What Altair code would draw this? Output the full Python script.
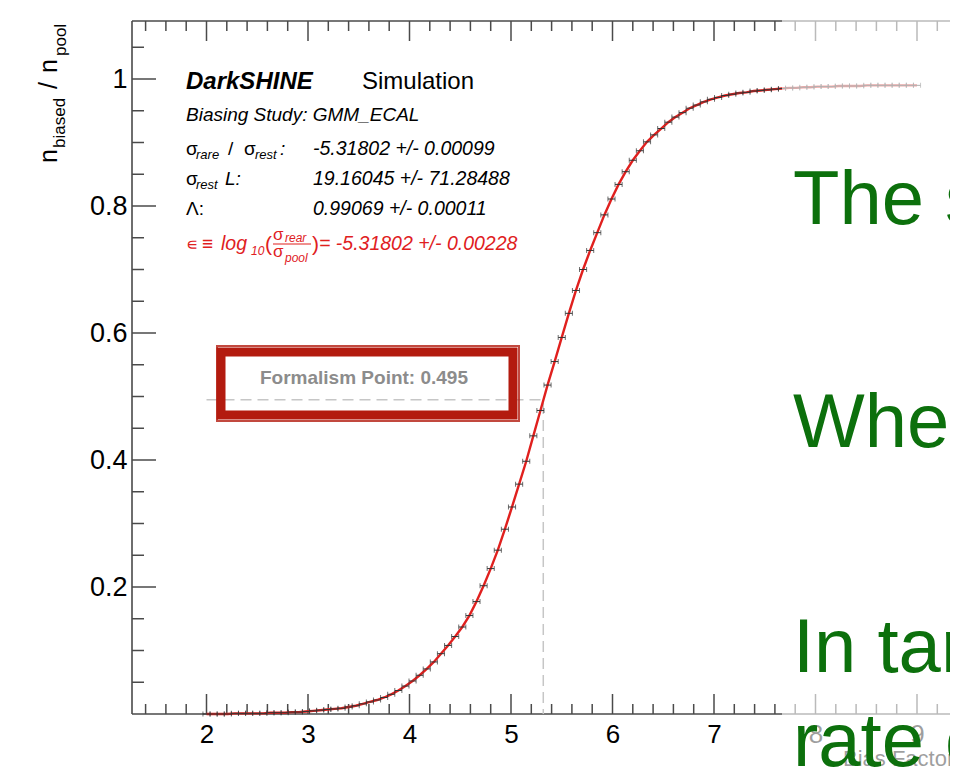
import altair as alt
import pandas as pd

# ---------------- data ----------------
bias_factor = [
    2.00, 2.07, 2.14, 2.21, 2.28, 2.35, 2.42, 2.49, 2.56, 2.63, 2.70, 2.77, 2.84, 2.91, 2.98,
    3.05, 3.12, 3.19, 3.26, 3.33, 3.40, 3.47, 3.54, 3.61, 3.68, 3.75, 3.82, 3.89, 3.96, 4.03,
    4.10, 4.17, 4.24, 4.31, 4.38, 4.45, 4.52, 4.59, 4.66, 4.73, 4.80, 4.87, 4.94, 5.01, 5.08,
    5.15, 5.22, 5.29, 5.36, 5.43, 5.50, 5.57, 5.64, 5.71, 5.78, 5.85, 5.92, 5.99, 6.06, 6.13,
    6.20, 6.27, 6.34, 6.41, 6.48, 6.55, 6.62, 6.69, 6.76, 6.83, 6.90, 6.97, 7.04, 7.11, 7.18,
    7.25, 7.32, 7.39, 7.46, 7.53, 7.60, 7.67, 7.74, 7.81, 7.88, 7.95, 8.02, 8.09, 8.16, 8.23,
    8.30, 8.37, 8.44, 8.51, 8.58, 8.65, 8.72, 8.79, 8.86, 8.93, 9.00,
]
n_ratio = [
    0.000, 0.000, 0.000, 0.000, 0.001, 0.001, 0.001, 0.001, 0.001, 0.002, 0.002, 0.002, 0.003, 0.003, 0.004,
    0.005, 0.006, 0.007, 0.008, 0.009, 0.011, 0.013, 0.016, 0.019, 0.022, 0.026, 0.031, 0.037, 0.044, 0.052,
    0.061, 0.071, 0.082, 0.095, 0.108, 0.122, 0.137, 0.155, 0.177, 0.202, 0.229, 0.258, 0.291, 0.326, 0.362,
    0.398, 0.438, 0.478, 0.518, 0.555, 0.593, 0.631, 0.667, 0.700, 0.730, 0.758, 0.786, 0.811, 0.834, 0.854,
    0.872, 0.887, 0.901, 0.912, 0.922, 0.932, 0.940, 0.947, 0.954, 0.959, 0.964, 0.968, 0.971, 0.974, 0.976,
    0.978, 0.979, 0.981, 0.982, 0.983, 0.984, 0.985, 0.986, 0.986, 0.987, 0.987, 0.988, 0.988, 0.988, 0.989,
    0.989, 0.989, 0.989, 0.990, 0.990, 0.990, 0.990, 0.990, 0.990, 0.990, 0.990,
]
bin_half_width = 0.035

x_major_ticks = [2, 3, 4, 5, 6, 7, 8, 9]
x_minor_ticks = [1.4, 1.6, 1.8, 2.2, 2.4, 2.6, 2.8, 3.2, 3.4, 3.6, 3.8, 4.2, 4.4, 4.6, 4.8,
                 5.2, 5.4, 5.6, 5.8, 6.2, 6.4, 6.6, 6.8, 7.2, 7.4, 7.6, 7.8, 8.2, 8.4, 8.6,
                 8.8, 9.2]
y_major_ticks = [0.2, 0.4, 0.6, 0.8, 1.0]
y_minor_ticks = [0.05, 0.1, 0.15, 0.25, 0.3, 0.35, 0.45, 0.5, 0.55, 0.65, 0.7, 0.75,
                 0.85, 0.9, 0.95, 1.05]

formalism_point = 0.495
sigma_ratio = 5.31802
formalism_start = 2.0

green_lines = ["The shape", "When", "In target", "rate of"]

# ---------------- layout ----------------
FONT = "Liberation Sans"
OX, OY = 132, 21          # page position of plot-area origin
W, H = 818, 693
PX_PER_X = 101.5
PX_PER_Y = 635.0
X0 = 2 - (206.5 - OX) / PX_PER_X
XDOM = [X0, X0 + W / PX_PER_X]
YDOM = [0, H / PX_PER_Y]
xs = alt.Scale(domain=XDOM, nice=False, zero=False)
ys = alt.Scale(domain=YDOM, nice=False, zero=False)

FRAME = "#4a4a4a"
RED = "#e0201e"
BOX_RED = "#b31b0f"
GREEN = "#0c700c"

AX_X = alt.Axis(values=x_major_ticks, ticks=False, domain=False, grid=False, title=None,
                labelFont=FONT, labelFontSize=26, labelColor="black",
                labelPadding=7, labelFlush=False)
AX_Y = alt.Axis(values=y_major_ticks, ticks=False, domain=False, grid=False, title=None,
                labelFont=FONT, labelFontSize=27, labelColor="black", labelPadding=5,
                labelExpr="datum.value == 1 ? '1' : format(datum.value, '.1f')")


def X(f):
    return alt.X(f, scale=xs, axis=AX_X, title=None)


def Y(f):
    return alt.Y(f, scale=ys, axis=AX_Y, title=None)


ONE = pd.DataFrame({"k": [0]})
df = pd.DataFrame({"x": bias_factor, "y": n_ratio})


def label(s, px, py, size, color="black", style="normal", weight="normal",
          align="left", angle=0, baseline="alphabetic"):
    return alt.Chart(ONE).mark_text(
        text=s, font=FONT, fontSize=size, color=color, fontStyle=style,
        fontWeight=weight, align=align, baseline=baseline, angle=angle,
    ).encode(x=alt.value(px - OX), y=alt.value(py - OY))


def ticks_x(vals, y0, y1):
    return alt.Chart(pd.DataFrame({"v": vals})).mark_rule(
        color=FRAME, strokeWidth=1.5
    ).encode(x=X("v:Q"), y=alt.value(y0), y2=alt.value(y1))


def ticks_y(vals, length):
    return alt.Chart(pd.DataFrame({"v": vals})).mark_rule(
        color=FRAME, strokeWidth=1.5
    ).encode(y=Y("v:Q"), x=alt.value(0), x2=alt.value(length))


def frame_line(x1, x2, y1, y2):
    return alt.Chart(ONE).mark_rule(color=FRAME, strokeWidth=1.6).encode(
        x=alt.value(x1), x2=alt.value(x2), y=alt.value(y1), y2=alt.value(y2))


layers = [
    ticks_x(x_major_ticks, H, H - 20),
    ticks_x(x_minor_ticks, H, H - 10),
    ticks_x(x_major_ticks, 0, 20),
    ticks_x(x_minor_ticks, 0, 10),
    ticks_y(y_major_ticks, 24),
    ticks_y(y_minor_ticks, 12),
    frame_line(0, 0, 0, H),
    frame_line(0, W, H, H),
    frame_line(0, W, 0, 0),
]

# dashed formalism guide
df_form = pd.DataFrame({
    "x": [formalism_start, sigma_ratio, sigma_ratio],
    "y": [formalism_point, formalism_point, 0.0],
    "o": [0, 1, 2],
})
layers.append(
    alt.Chart(df_form).mark_line(color="#c6c6c6", strokeWidth=1.5, strokeDash=[11, 6]).encode(
        x=X("x:Q"), y=Y("y:Q"), order="o:O")
)

# fitted curve
layers.append(alt.Chart(df).mark_line(color=RED, strokeWidth=2.4).encode(x=X("x:Q"), y=Y("y:Q")))

# error-bar markers
eb = alt.Chart(df).transform_calculate(
    xl=f"datum.x - {bin_half_width}", xr=f"datum.x + {bin_half_width}")
layers.append(eb.mark_rule(color="#333333", strokeWidth=1).encode(
    x=X("xl:Q"), x2="xr:Q", y=Y("y:Q")))
layers.append(eb.mark_tick(orient="vertical", size=5, thickness=1, color="#333333").encode(
    x=X("xl:Q"), y=Y("y:Q")))
layers.append(eb.mark_tick(orient="vertical", size=5, thickness=1, color="#333333").encode(
    x=X("xr:Q"), y=Y("y:Q")))

# formalism box
layers.append(alt.Chart(ONE).mark_rect(fillOpacity=0, stroke=BOX_RED, strokeWidth=9).encode(
    x=alt.value(221 - OX), x2=alt.value(513 - OX), y=alt.value(352 - OY), y2=alt.value(415 - OY)))
layers.append(alt.Chart(ONE).mark_rect(fillOpacity=0, stroke=BOX_RED, strokeWidth=2,
                                       strokeOpacity=0.8).encode(
    x=alt.value(217 - OX), x2=alt.value(519 - OX), y=alt.value(346 - OY), y2=alt.value(421 - OY)))
layers.append(label(f"Formalism Point: {formalism_point}", 364, 384, 19, color="#8c8c8c",
                    weight="bold", align="center"))

# legend block
layers += [
    label("DarkSHINE", 186, 89, 24, weight="bold", style="italic"),
    label("Simulation", 362, 89, 24),
    label("Biasing Study: GMM_ECAL", 186, 121, 19, style="italic"),
    # line 1
    label("σ", 186, 155, 19),
    label("rare", 196, 159, 13, style="italic"),
    label("/", 228, 155, 19),
    label("σ", 244, 155, 19),
    label("rest", 255, 159, 13, style="italic"),
    label(":", 280, 155, 19, style="italic"),
    label("-5.31802 +/- 0.00099", 313, 155, 19.5, style="italic"),
    # line 2
    label("σ", 186, 185, 19),
    label("rest", 196, 189, 13, style="italic"),
    label("L:", 225, 185, 19, style="italic"),
    label("19.16045 +/- 71.28488", 313, 185, 19.5, style="italic"),
    # line 3
    label("Λ:", 186, 215, 19),
    label("0.99069 +/- 0.00011", 313, 215, 19.5, style="italic"),
    # line 4 (red)
    label("∊", 186, 250, 17, color=RED),
    label("≡", 202, 250, 19, color=RED),
    label("log", 221, 250, 19.5, color=RED, style="italic"),
    label("10", 251, 255, 12, color=RED, style="italic"),
    label("(", 265, 251, 21, color=RED),
    label("σ", 273, 240, 17, color=RED),
    label("rear", 285, 242, 12, color=RED, style="italic"),
    label("σ", 273, 257, 17, color=RED),
    label("pool", 285, 262, 12, color=RED, style="italic"),
    label(")", 312, 251, 21, color=RED),
    label("= -5.31802 +/- 0.00228", 319, 250, 19.5, color=RED, style="italic"),
]
layers.append(alt.Chart(ONE).mark_rule(color=RED, strokeWidth=1.2).encode(
    x=alt.value(273 - OX), x2=alt.value(311 - OX), y=alt.value(244 - OY)))

# y-axis title (rotated)
layers += [
    label("n", 57, 163, 25, angle=270),
    label("biased", 65, 148, 17, angle=270),
    label("/", 57, 89, 25, angle=270),
    label("n", 57, 73, 25, angle=270),
    label("pool", 66, 56, 17, angle=270),
]
# x-axis title
layers.append(label("Bias Factor", 843, 766, 22))

# translucent slide overlay
layers.append(alt.Chart(ONE).mark_rect(color="white", opacity=0.62).encode(
    x=alt.value(782 - OX), x2=alt.value(W), y=alt.value(-OY), y2=alt.value(H + 60)))

# green slide text
for s, by in zip(green_lines, [224, 447, 672, 766]):
    layers.append(label(s, 793, by, 76, color=GREEN))

chart = alt.layer(*layers).properties(
    width=W, height=H,
    autosize=alt.AutoSizeParams(type="none"),
    padding={"left": OX - 8, "top": OY - 8, "right": 0, "bottom": 53},
).configure_view(stroke=None)

chart.save("out.html", embed_options={"renderer": "svg", "actions": False})
